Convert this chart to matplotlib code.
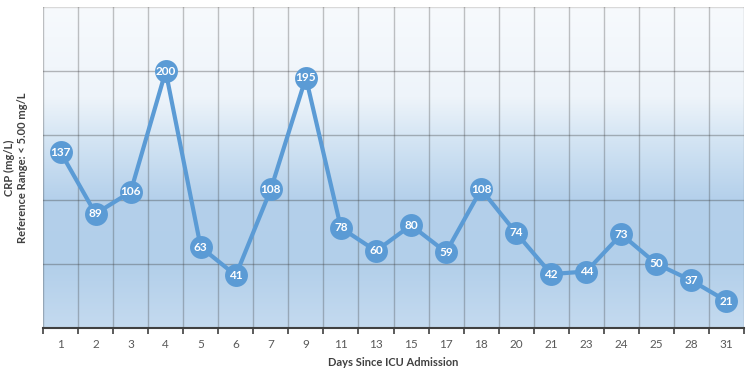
import numpy as np
import matplotlib.pyplot as plt
from matplotlib.colors import LinearSegmentedColormap

# data
days = ['1', '2', '3', '4', '5', '6', '7', '9', '11', '13', '15', '17',
        '18', '20', '21', '23', '24', '25', '28', '31']
crp = [137, 89, 106, 200, 63, 41, 108, 195, 78, 60, 80, 59,
       108, 74, 42, 44, 73, 50, 37, 21]

plt.rcParams['font.family'] = ['Lato', 'DejaVu Sans']

fig = plt.figure(figsize=(7.5, 3.7), dpi=100)
ax = fig.add_axes([43 / 750, 42 / 370, 701 / 750, 321 / 370])

n = len(days)
ymax = 250

# background gradient, bottom -> top
bg = LinearSegmentedColormap.from_list('bg', [
    (0.0, '#c4daef'),
    (0.2, '#b2cfea'),
    (0.4, '#b4d0eb'),
    (0.6, '#d6e6f4'),
    (0.72, '#eef4fa'),
    (1.0, '#f7fafd'),
])
grad = np.linspace(0, 1, 256).reshape(-1, 1)
ax.imshow(grad, cmap=bg, origin='lower', aspect='auto',
          extent=[0, n, 0, ymax], zorder=0)

# grid
for v in [50, 100, 150, 200]:
    ax.axhline(v, color='#3a3a3a', alpha=0.35, lw=1, zorder=1)
ax.axhline(ymax, color='#d9d9d9', lw=1, zorder=1)
for b in range(0, n + 1):
    ax.axvline(b, color='#3a3a3a', alpha=0.3, lw=1, zorder=1)

x = np.arange(n) + 0.5
ax.plot(x, crp, color='#5b9bd5', lw=3, zorder=2)
ax.plot(x, crp, 'o', ms=16.5, color='#5b9bd5', mew=0, zorder=3)
for xi, v in zip(x, crp):
    ax.text(xi, v, str(v), color='white', fontsize=8.5, fontweight='bold',
            ha='center', va='center', zorder=4)

ax.set_xlim(0, n)
ax.set_ylim(0, ymax)
ax.set_xticks(x)
ax.set_xticklabels(days, color='#595959', fontsize=8.5)
ax.set_xticks(np.arange(0, n + 1), minor=True)
ax.tick_params(axis='x', which='major', length=0, pad=8)
ax.tick_params(axis='x', which='minor', length=4, width=1.2, color='#404040')
ax.set_yticks([])

for s in ['top', 'left', 'right']:
    ax.spines[s].set_visible(False)
ax.spines['bottom'].set_color('#404040')
ax.spines['bottom'].set_linewidth(1.5)

ax.set_xlabel('Days Since ICU Admission', fontsize=8, fontweight='bold',
              color='#404040', labelpad=5)
fig.text(16 / 750, 202 / 370, 'CRP (mg/L)\nReference Range: < 5.00 mg/L',
         rotation=90, ha='center', va='center', fontsize=8,
         fontweight='bold', color='#404040', linespacing=1.3)

fig.savefig('out.png', dpi=100)
